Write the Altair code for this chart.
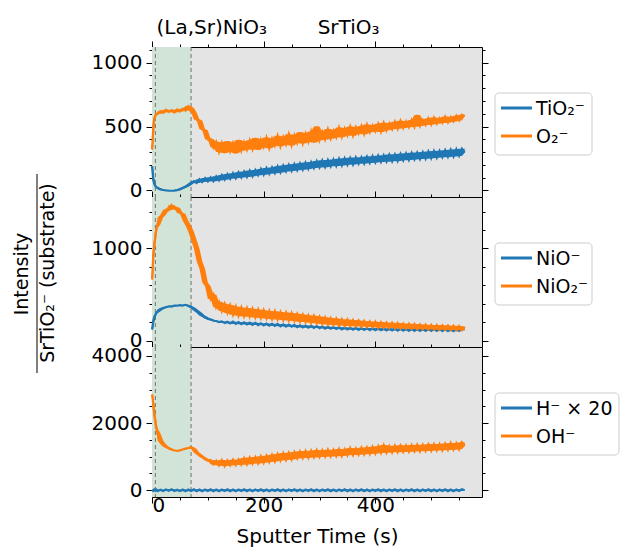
import altair as alt
import pandas as pd

BLUE = "#1f77b4"
ORANGE = "#ff7f0e"
FONT = "DejaVu Sans"

# sputter time grid (s)
time_s = [0, 2, 4, 6, 8] + list(range(10, 565, 5))

# ---- top panel ----
tio2 = [190, 95, 55, 35, 25,
        18, 8, 3, 0, -2, -3, -2, 2, 8, 18,
        28, 40, 55, 72, 58, 88, 65, 96, 70, 102,
        72, 110, 78, 120, 84, 128, 90, 135, 95, 142,
        100, 148, 105, 155, 110, 160, 118, 168, 122, 175,
        130, 180, 135, 188, 140, 195, 148, 200, 152, 206,
        158, 212, 162, 218, 168, 222, 175, 230, 180, 235,
        182, 238, 188, 242, 190, 248, 195, 252, 200, 255,
        202, 258, 208, 260, 210, 265, 215, 268, 218, 272,
        222, 275, 225, 280, 228, 282, 230, 286, 235, 290,
        238, 294, 242, 296, 245, 300, 248, 305, 252, 308,
        255, 310, 260, 315, 262, 318, 265, 322, 270, 325,
        295]
o2 = [320, 470, 560, 585, 600,
      598, 620, 608, 632, 615, 628, 610, 633, 618, 640,
      625, 660, 645, 610, 555, 548, 478, 470, 398, 402,
      335, 380, 300, 372, 292, 385, 305, 370, 290, 395,
      310, 378, 318, 392, 322, 410, 318, 398, 340, 415,
      330, 405, 350, 428, 345, 418, 360, 440, 352, 432,
      372, 455, 368, 445, 380, 462, 375, 500, 392, 458,
      398, 480, 405, 468, 415, 492, 418, 485, 430, 500,
      428, 495, 445, 505, 440, 515, 455, 508, 462, 522,
      458, 530, 470, 525, 478, 538, 482, 545, 488, 540,
      495, 552, 498, 590, 505, 552, 512, 565, 515, 570,
      522, 565, 528, 578, 532, 575, 540, 585, 548, 592,
      580]

# ---- middle panel ----
nio = [120, 200, 250, 280, 300,
       315, 340, 352, 362, 372, 368, 380, 378, 385, 380,
       388, 378, 365, 345, 320, 298, 270, 255, 235, 230,
       215, 212, 200, 208, 190, 205, 185, 205, 180, 200,
       178, 198, 175, 195, 170, 192, 168, 188, 165, 185,
       162, 182, 158, 180, 155, 176, 152, 172, 150, 170,
       145, 165, 142, 162, 140, 160, 138, 156, 135, 152,
       130, 150, 128, 146, 125, 145, 122, 142, 120, 140,
       118, 138, 116, 136, 115, 135, 114, 134, 112, 133,
       112, 132, 110, 132, 110, 131, 108, 130, 108, 130,
       106, 130, 106, 128, 105, 128, 105, 128, 104, 127,
       104, 127, 103, 127, 103, 126, 102, 126, 104, 126,
       125]
nio2 = [663, 900, 1030, 1130, 1220,
        1260, 1335, 1365, 1420, 1415, 1470, 1430, 1440, 1385, 1375,
        1300, 1250, 1180, 1090, 1000, 860, 780, 630, 590, 450,
        500, 360, 420, 320, 400, 300, 385, 280, 370, 268,
        360, 262, 352, 258, 345, 250, 338, 245, 330, 240,
        322, 232, 318, 228, 310, 222, 305, 218, 300, 212,
        290, 205, 282, 200, 275, 192, 268, 188, 260, 180,
        252, 175, 245, 170, 238, 165, 232, 160, 228, 158,
        222, 155, 218, 152, 212, 150, 208, 146, 205, 142,
        200, 140, 196, 138, 192, 135, 190, 132, 186, 130,
        182, 128, 180, 125, 176, 124, 172, 122, 170, 120,
        168, 118, 165, 117, 162, 115, 160, 114, 158, 113,
        150]

# ---- bottom panel ----
h_x20 = [10, -20, 25, -15, 20,
         -25, 20, -20, 25, -15, 30, -20, 15, -25, 20,
         -30, 25, -20, 30, -25, 20, -30, 25, -20, 30,
         -25, 20, -30, 25, -20, 30, -25, 20, -30, 25,
         -20, 30, -25, 20, -30, 25, -20, 30, -25, 20,
         -30, 25, -20, 30, -25, 20, -30, 25, -20, 30,
         -25, 20, -30, 25, -20, 30, -25, 20, -30, 25,
         -20, 30, -25, 20, -30, 25, -20, 30, -25, 20,
         -30, 25, -20, 30, -25, 20, -30, 25, -20, 30,
         -25, 20, -30, 25, -20, 30, -25, 20, -30, 25,
         -20, 30, -25, 20, -30, 25, -20, 30, -25, 20,
         -30, 25, -20, 30, -25, 20, -30, 25, -20, 30,
         0]
oh = [2860, 2600, 2300, 2060, 1850,
      1700, 1480, 1370, 1300, 1250, 1215, 1185, 1175, 1190, 1215,
      1240, 1260, 1290, 1230, 1120, 1060, 990, 950, 880, 900,
      770, 880, 740, 900, 720, 890, 740, 910, 750, 920,
      760, 960, 770, 975, 790, 990, 800, 1015, 820, 1030,
      840, 1060, 860, 1080, 885, 1110, 900, 1120, 920, 1140,
      950, 1160, 960, 1170, 970, 1180, 980, 1200, 990, 1190,
      1000, 1210, 1010, 1205, 1015, 1230, 1020, 1220, 1040, 1260,
      1050, 1245, 1060, 1270, 1070, 1280, 1080, 1295, 1095, 1310,
      1110, 1350, 1120, 1320, 1130, 1330, 1135, 1340, 1140, 1335,
      1150, 1350, 1155, 1360, 1160, 1355, 1170, 1370, 1175, 1375,
      1185, 1380, 1190, 1390, 1200, 1410, 1210, 1405, 1220, 1430,
      1320]

# regions / annotations
film_region = [0, 70]          # (La,Sr)NiO3 film, seconds
boundary_lines = [6, 70]       # dashed markers, seconds
phase_names = ["(La,Sr)NiO\u2083", "SrTiO\u2083"]
phase_x = [107, 352]

X_DOMAIN = [0, 591]
W, H = 330, 150


def text_at(txt, x, y, size=19, angle=0, align="left", baseline="middle"):
    return alt.Chart(pd.DataFrame({"t": [txt]})).mark_text(
        font=FONT, fontSize=size, angle=angle, align=align, baseline=baseline,
        color="black").encode(x=alt.value(x), y=alt.value(y), text="t:N")


def legend_block(entries, box_w):
    box = alt.Chart(pd.DataFrame({"k": [0]})).mark_rect(
        fill="white", stroke="#cccccc", strokeWidth=1, cornerRadius=4).encode(
        x=alt.value(343), x2=alt.value(343 + box_w), y=alt.value(46), y2=alt.value(108))
    parts = [box]
    for i, (label, col) in enumerate(entries):
        yy = 61 + 28 * i
        parts.append(alt.Chart(pd.DataFrame({"k": [0]})).mark_rule(
            color=col, strokeWidth=3).encode(
            x=alt.value(349), x2=alt.value(380), y=alt.value(yy)))
        parts.append(text_at(label, 384, yy + 1, size=19))
    return parts


def series_layers(vals, col, xs, ys, x_axis=None, y_axis=None):
    assert len(vals) == len(time_s)
    d = pd.DataFrame({"t": time_s, "v": vals})
    base = alt.Chart(d)
    # noise band: local min/max of neighbouring samples
    band = base.transform_window(
        lo="min(v)", hi="max(v)", frame=[-1, 1], sort=[alt.SortField("t")]
    ).mark_area(color=col, opacity=1).encode(
        x=alt.X("t:Q", scale=xs, axis=None),
        y=alt.Y("lo:Q", scale=ys, axis=None), y2="hi:Q")
    line = base.mark_line(color=col, strokeWidth=2.2).encode(
        x=alt.X("t:Q", scale=xs, axis=x_axis),
        y=alt.Y("v:Q", scale=ys, axis=y_axis))
    return [band, line]


def panel(a, b, name_a, name_b, y_domain, y_major, y_minor_step, y_max_tick,
          legend_w, bottom=False, top=False, extra=None):
    xs = alt.Scale(domain=X_DOMAIN, nice=False, zero=False)
    ys = alt.Scale(domain=y_domain, nice=False, zero=False)
    xvals = list(range(0, 591, 50))
    yvals = list(range(0, y_max_tick + 1, y_minor_step))
    xtick = {"condition": {"test": "datum.value % 200 === 0", "value": 6}, "value": 3}
    ytick = {"condition": {"test": f"datum.value % {y_major} === 0", "value": 6}, "value": 3}

    x_axis_main = alt.Axis(values=xvals, tickSize=xtick, labels=bottom, grid=False,
                           labelExpr="datum.value % 200 === 0 ? datum.label : ''",
                           format="d", labelPadding=-8, labelFontSize=20,
                           title="Sputter Time (s)" if bottom else None,
                           titlePadding=11, titleFontSize=20, titleFontWeight="normal",
                           orient="bottom")
    y_axis_main = alt.Axis(values=yvals, tickSize=ytick, format="d", grid=False,
                           labelExpr=f"datum.value % {y_major} === 0 ? datum.label : ''",
                           labelPadding=4, labelFontSize=20, title=None, orient="left")

    region = alt.Chart(pd.DataFrame({"a": [film_region[0]], "b": [film_region[1]]})).mark_rect(
        color="#d2e4d7").encode(x=alt.X("a:Q", scale=xs, axis=None), x2="b:Q")
    rules = alt.Chart(pd.DataFrame({"x": boundary_lines})).mark_rule(
        color="#555555", strokeDash=[4, 3], strokeWidth=0.8).encode(
        x=alt.X("x:Q", scale=xs, axis=None))
    carrier = alt.Chart(pd.DataFrame({"t": time_s, "v": a})).mark_line(opacity=0).encode(
        x=alt.X("t:Q", scale=xs, axis=alt.Axis(values=xvals, tickSize=xtick, labels=False,
                                                grid=False, title=None, orient="top")),
        y=alt.Y("v:Q", scale=ys, axis=alt.Axis(values=yvals, tickSize=ytick, labels=False,
                                                grid=False, title=None, orient="right")))
    layers = [region, rules]
    layers += series_layers(a, BLUE, xs, ys, x_axis_main, y_axis_main)
    layers += series_layers(b, ORANGE, xs, ys)
    layers.append(carrier)
    layers += legend_block([(name_a, BLUE), (name_b, ORANGE)], legend_w)
    if top:
        txt = alt.Chart(pd.DataFrame({"x": phase_x, "label": phase_names})).mark_text(
            fontSize=20, font=FONT, baseline="alphabetic", color="black").encode(
            x=alt.X("x:Q", scale=xs, axis=None), y=alt.value(-13), text="label:N")
        layers.append(txt)
    if extra:
        layers += extra
    return alt.layer(*layers).resolve_axis(x="independent", y="independent").properties(
        width=W, height=H)


# y-axis title as a fraction: Intensity / SrTiO2- (substrate)
ytitle_parts = [
    text_at("Intensity", -124, 77, size=19, angle=270, align="center", baseline="alphabetic"),
    text_at("SrTiO\u2082\u207b (substrate)", -98, 76, size=19, angle=270, align="center",
            baseline="alphabetic"),
    alt.Chart(pd.DataFrame({"k": [0]})).mark_rule(color="black", strokeWidth=1).encode(
        x=alt.value(-115), y=alt.value(-23), y2=alt.value(176)),
]

p1 = panel(tio2, o2, "TiO\u2082\u207b", "O\u2082\u207b", [-52, 1123], 500, 100, 1100, 97,
           top=True)
p2 = panel(nio, nio2, "NiO\u207b", "NiO\u2082\u207b", [-70, 1558], 1000, 200, 1400, 97,
           extra=ytitle_parts)
p3 = panel(h_x20, oh, "H\u207b \u00d7 20", "OH\u207b", [-200, 4268], 2000, 500, 4000, 124,
           bottom=True)

chart = alt.vconcat(p1, p2, p3, spacing=0, bounds="flush").properties(
    padding={"left": 12, "top": 17, "right": 0, "bottom": 0}, background="white"
).configure_view(stroke="black", strokeWidth=1, fill="#e4e4e4").configure_axis(
    domain=False, grid=False, labelFont=FONT, titleFont=FONT, labelColor="black",
    tickColor="black", titleColor="black", titleFontWeight="normal", tickWidth=1
)

chart.save("out.html", embed_options={"renderer": "svg", "actions": False})
